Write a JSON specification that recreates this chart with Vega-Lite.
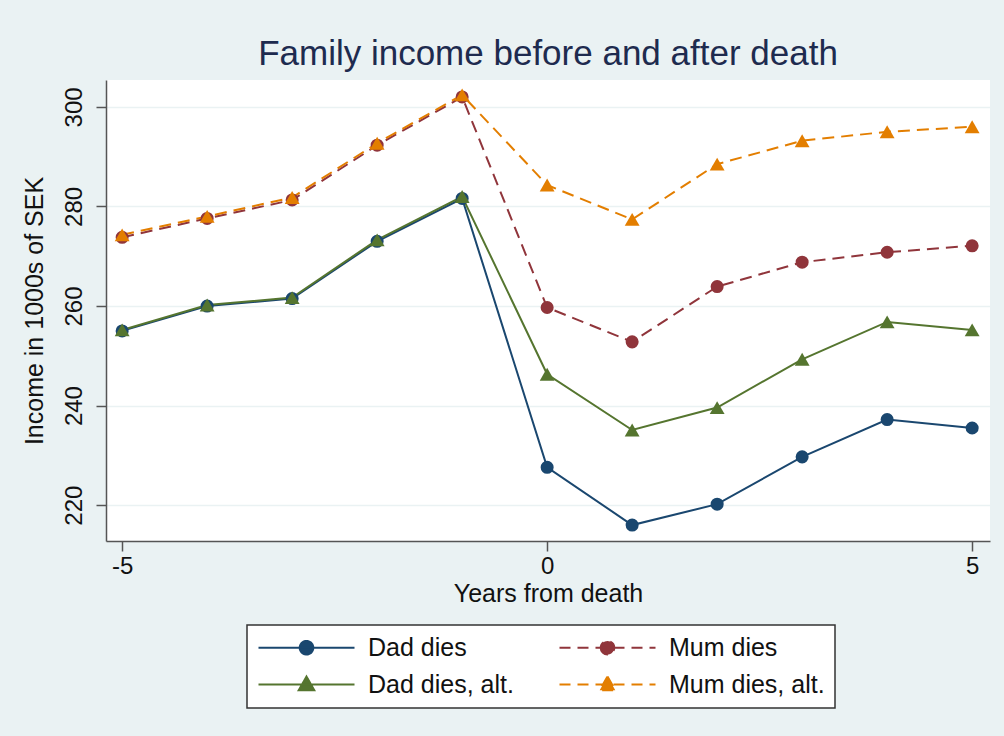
{
  "$schema": "https://vega.github.io/schema/vega-lite/v6.json",
  "width": 884,
  "height": 461,
  "autosize": {"type": "none"},
  "padding": {"left": 106, "top": 80, "right": 14, "bottom": 195},
  "background": "#EAF2F3",
  "title": {
    "text": "Family income before and after death",
    "fontSize": 35,
    "fontWeight": "normal",
    "color": "#1e2b4f",
    "anchor": "middle",
    "offset": 8
  },
  "data": {
    "values": [
      {"t": -5, "income": 255.0, "series": "Dad dies"},
      {"t": -4, "income": 260.0, "series": "Dad dies"},
      {"t": -3, "income": 261.5, "series": "Dad dies"},
      {"t": -2, "income": 273.0, "series": "Dad dies"},
      {"t": -1, "income": 281.6, "series": "Dad dies"},
      {"t": 0, "income": 227.6, "series": "Dad dies"},
      {"t": 1, "income": 216.0, "series": "Dad dies"},
      {"t": 2, "income": 220.2, "series": "Dad dies"},
      {"t": 3, "income": 229.7, "series": "Dad dies"},
      {"t": 4, "income": 237.2, "series": "Dad dies"},
      {"t": 5, "income": 235.5, "series": "Dad dies"},
      {"t": -5, "income": 273.8, "series": "Mum dies"},
      {"t": -4, "income": 277.6, "series": "Mum dies"},
      {"t": -3, "income": 281.3, "series": "Mum dies"},
      {"t": -2, "income": 292.3, "series": "Mum dies"},
      {"t": -1, "income": 302.0, "series": "Mum dies"},
      {"t": 0, "income": 259.7, "series": "Mum dies"},
      {"t": 1, "income": 252.8, "series": "Mum dies"},
      {"t": 2, "income": 263.9, "series": "Mum dies"},
      {"t": 3, "income": 268.8, "series": "Mum dies"},
      {"t": 4, "income": 270.8, "series": "Mum dies"},
      {"t": 5, "income": 272.1, "series": "Mum dies"},
      {"t": -5, "income": 255.2, "series": "Dad dies, alt."},
      {"t": -4, "income": 260.2, "series": "Dad dies, alt."},
      {"t": -3, "income": 261.7, "series": "Dad dies, alt."},
      {"t": -2, "income": 273.3, "series": "Dad dies, alt."},
      {"t": -1, "income": 282.0, "series": "Dad dies, alt."},
      {"t": 0, "income": 246.3, "series": "Dad dies, alt."},
      {"t": 1, "income": 235.1, "series": "Dad dies, alt."},
      {"t": 2, "income": 239.6, "series": "Dad dies, alt."},
      {"t": 3, "income": 249.3, "series": "Dad dies, alt."},
      {"t": 4, "income": 256.8, "series": "Dad dies, alt."},
      {"t": 5, "income": 255.2, "series": "Dad dies, alt."},
      {"t": -5, "income": 274.3, "series": "Mum dies, alt."},
      {"t": -4, "income": 278.0, "series": "Mum dies, alt."},
      {"t": -3, "income": 281.8, "series": "Mum dies, alt."},
      {"t": -2, "income": 292.7, "series": "Mum dies, alt."},
      {"t": -1, "income": 302.4, "series": "Mum dies, alt."},
      {"t": 0, "income": 284.3, "series": "Mum dies, alt."},
      {"t": 1, "income": 277.4, "series": "Mum dies, alt."},
      {"t": 2, "income": 288.5, "series": "Mum dies, alt."},
      {"t": 3, "income": 293.2, "series": "Mum dies, alt."},
      {"t": 4, "income": 295.0, "series": "Mum dies, alt."},
      {"t": 5, "income": 296.0, "series": "Mum dies, alt."}
    ]
  },
  "encoding": {
    "x": {
      "field": "t",
      "type": "quantitative",
      "scale": {"domain": [-5.19, 5.21], "nice": false, "zero": false},
      "axis": {
        "values": [-5, 0, 5],
        "labelExpr": "datum.value < 0 ? '-' + abs(datum.value) : '' + datum.value",
        "title": "Years from death",
        "grid": false,
        "labelFontSize": 24,
        "labelColor": "#111",
        "labelPadding": 3,
        "tickSize": 10,
        "tickColor": "#555",
        "tickWidth": 1.5,
        "domainColor": "#555",
        "domainWidth": 1.5,
        "titleFontSize": 25,
        "titleFontWeight": "normal",
        "titleColor": "#111",
        "titlePadding": 3
      }
    },
    "y": {
      "field": "income",
      "type": "quantitative",
      "scale": {"domain": [212.8, 305.4], "nice": false, "zero": false},
      "axis": {
        "values": [220, 240, 260, 280, 300],
        "title": "Income in 1000s of SEK",
        "grid": true,
        "gridColor": "#EAF2F3",
        "gridWidth": 1.5,
        "labelAngle": -90,
        "labelAlign": "center",
        "labelBaseline": "bottom",
        "labelFontSize": 24,
        "labelColor": "#111",
        "labelPadding": 10,
        "tickSize": 10,
        "tickColor": "#555",
        "tickWidth": 1.5,
        "domainColor": "#555",
        "domainWidth": 1.5,
        "titleFontSize": 25,
        "titleFontWeight": "normal",
        "titleColor": "#111",
        "titlePadding": 15
      }
    },
    "color": {
      "field": "series",
      "type": "nominal",
      "scale": {
        "domain": ["Dad dies", "Dad dies, alt.", "Mum dies", "Mum dies, alt."],
        "range": ["#1a476f", "#55752f", "#90353b", "#e37e00"]
      },
      "legend": {
        "title": null,
        "orient": "none",
        "legendX": 141,
        "legendY": 545,
        "columns": 2,
        "columnPadding": 41,
        "rowPadding": 11,
        "padding": 10,
        "strokeColor": "#333",
        "fillColor": "white",
        "labelFontSize": 25,
        "labelColor": "#111",
        "symbolSize": 180,
        "symbolOffset": 37,
        "labelOffset": 49,
        "encode": {
          "symbols": {
            "update": {
              "shape": {"signal": "indexof(['Dad dies','Mum dies'], datum.value) >= 0 ? 'M-4.8,0L4.8,0M-0.68,0A0.68,0.68,0,1,0,0.68,0A0.68,0.68,0,1,0,-0.68,0Z' : 'M-4.8,0L4.8,0M0,-0.8L0.78,0.58L-0.78,0.58Z'"},
              "size": {"value": 400},
              "strokeWidth": {"value": 2},
              "fill": {"signal": "scale('color', datum.value)"},
              "stroke": {"signal": "scale('color', datum.value)"},
              "strokeDash": {"signal": "indexof(['Mum dies','Mum dies, alt.'], datum.value) >= 0 ? [11,7] : [1,0]"},
              "opacity": {"value": 1},
              "fillOpacity": {"value": 1}
            }
          },
          "legend": {"update": {"strokeWidth": {"value": 1.5}}}
        }
      }
    }
  },
  "layer": [
    {
      "transform": [{"filter": {"field": "series", "oneOf": ["Dad dies", "Dad dies, alt."]}}],
      "mark": {"type": "line", "strokeWidth": 2}
    },
    {
      "transform": [{"filter": {"field": "series", "oneOf": ["Mum dies", "Mum dies, alt."]}}],
      "mark": {"type": "line", "strokeWidth": 2, "strokeDash": [12, 7]}
    },
    {
      "transform": [{"filter": {"field": "series", "oneOf": ["Dad dies", "Mum dies"]}}],
      "mark": {"type": "point", "shape": "circle", "filled": true, "opacity": 1, "size": 170}
    },
    {
      "transform": [{"filter": {"field": "series", "oneOf": ["Dad dies, alt.", "Mum dies, alt."]}}],
      "mark": {"type": "point", "shape": "triangle-up", "filled": true, "opacity": 1, "size": 220}
    }
  ],
  "config": {
    "font": "Liberation Sans",
    "view": {"fill": "white", "stroke": null}
  }
}
